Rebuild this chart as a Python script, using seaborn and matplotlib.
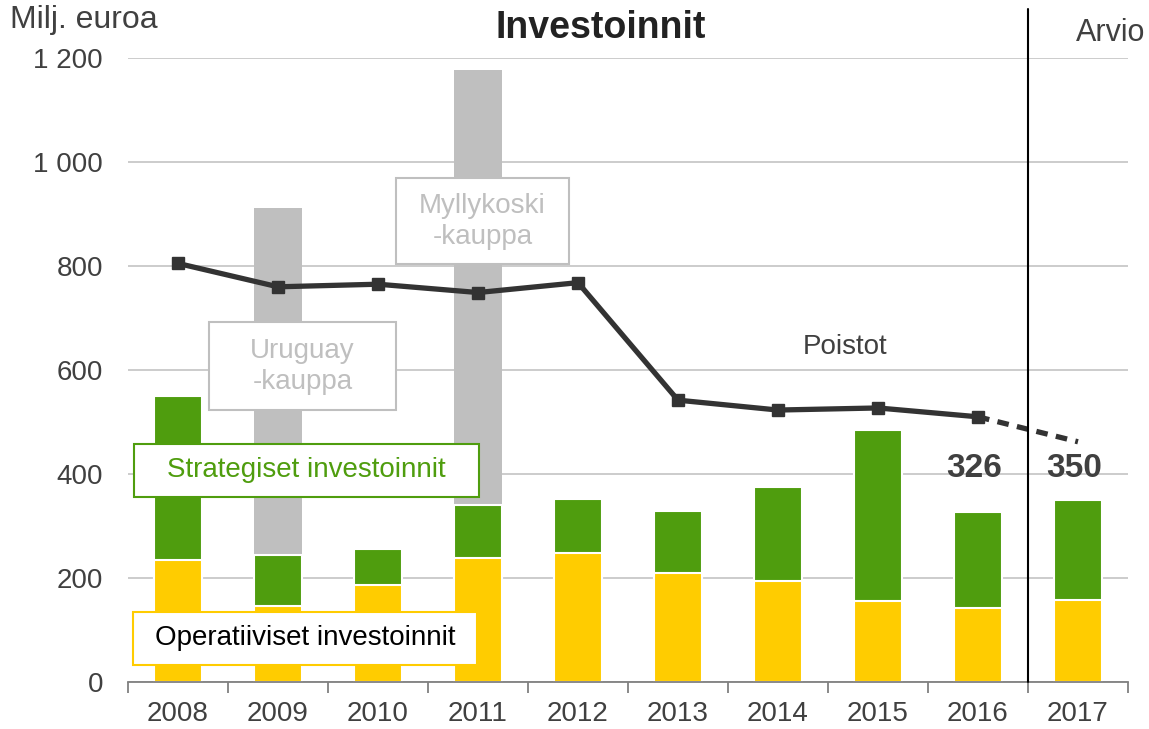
import matplotlib
matplotlib.use("Agg")
import matplotlib.pyplot as plt
from matplotlib.patches import Rectangle
import seaborn as sns
import numpy as np
import pandas as pd

years = ["2008", "2009", "2010", "2011", "2012", "2013", "2014", "2015", "2016", "2017"]
operatiiviset = [235, 147, 186, 238, 249, 210, 195, 155, 143, 158]
strategiset = [315, 97, 70, 102, 103, 119, 180, 330, 183, 192]
kaupat = [0, 667, 0, 837, 0, 0, 0, 0, 0, 0]
poistot = [805, 760, 765, 749, 768, 542, 523, 527, 510]
poistot_arvio = [510, 462]
totals_labels = {"2016": "326", "2017": "350"}
yticks = [0, 200, 400, 600, 800, 1000, 1200]
ytick_labels = ["0", "200", "400", "600", "800", "1 000", "1 200"]

sns.set_theme(style="white")
plt.rcParams["font.family"] = ["Liberation Sans", "DejaVu Sans"]

YELLOW = "#FFCC00"
GREEN = "#4F9D0E"
GREY = "#BFBFBF"
DARK = "#333333"
TEXT = "#404040"

df = pd.DataFrame({"year": years, "op": operatiiviset, "st": strategiset, "ka": kaupat})
df["green_top"] = df["op"] + df["st"]
df["grey_top"] = df["green_top"] + df["ka"]

fig = plt.figure(figsize=(11.49, 7.29), dpi=100)
ax = fig.add_axes([0.1114, 0.0645, 0.8703, 0.8559])

ax.set_axisbelow(True)
ax.yaxis.grid(True, color="#C8C8C8", linewidth=1.3)

sns.barplot(data=df, x="year", y="grey_top", color=GREY, width=0.48, ax=ax,
            edgecolor="white", linewidth=0, saturation=1, order=years)
sns.barplot(data=df, x="year", y="green_top", color=GREEN, width=0.48, ax=ax,
            edgecolor="white", linewidth=1.5, saturation=1, order=years)
sns.barplot(data=df, x="year", y="op", color=YELLOW, width=0.48, ax=ax,
            edgecolor="white", linewidth=1.5, saturation=1, order=years)

xs = np.arange(len(poistot))
ax.plot(xs, poistot, color=DARK, lw=3.8, marker="s", ms=9, zorder=5)
ax.plot([8, 9], poistot_arvio, color=DARK, lw=3.8, ls=(0, (2.2, 1.6)), zorder=5)

ax.set_xlim(-0.5, 9.5)
ax.set_ylim(0, 1200)
ax.set_yticks(yticks)
ax.set_yticklabels(ytick_labels)
ax.set_xlabel("")
ax.set_ylabel("")

for s in ["top", "right", "left"]:
    ax.spines[s].set_visible(False)
ax.spines["bottom"].set_color("#808080")
ax.spines["bottom"].set_linewidth(1.3)

ax.set_xticks(np.arange(-0.5, 10, 1.0), minor=True)
ax.tick_params(axis="x", which="minor", length=8, width=1.3, color="#808080", direction="out", bottom=True)
ax.tick_params(axis="x", which="major", length=0, pad=14, labelsize=20, labelcolor=TEXT)
ax.tick_params(axis="y", length=0, pad=18, labelsize=20, labelcolor=TEXT)

# Forecast divider
ax.plot([8.5, 8.5], [0, 1295], color="black", lw=1.5, clip_on=False, zorder=6)

fig.text(0.009, 0.972, "Milj. euroa", fontsize=23, color=TEXT, ha="left", va="center")
fig.text(0.523, 0.961, "Investoinnit", fontsize=27, fontweight="bold", color="#222222", ha="center", va="center")
ax.text(9.67, 1248, "Arvio", fontsize=22, color=TEXT, ha="right", va="center", clip_on=False)

ax.text(6.67, 644, "Poistot", fontsize=20, color=TEXT, ha="center", va="center")
for yr, lab in totals_labels.items():
    i = years.index(yr)
    ax.text(i - 0.04, 410, lab, fontsize=24, fontweight="bold", color=TEXT, ha="center", va="center")


def label_box(x0, x1, y0, y1, text, tcolor, ecolor):
    ax.add_patch(Rectangle((x0, y0), x1 - x0, y1 - y0, facecolor="white", edgecolor=ecolor,
                           lw=1.5, zorder=7))
    ax.text((x0 + x1) / 2, (y0 + y1) / 2, text, fontsize=20, color=tcolor, ha="center",
            va="center", linespacing=1.25, zorder=8)


label_box(-0.44, 3.01, 356, 458, "Strategiset investoinnit", GREEN, GREEN)
label_box(-0.45, 2.99, 33, 135, "Operatiiviset investoinnit", "black", YELLOW)
label_box(0.31, 2.18, 523, 692, "Uruguay\n-kauppa", GREY, GREY)
label_box(2.18, 3.91, 804, 969, "Myllykoski\n-kauppa", GREY, GREY)

fig.savefig("out.png", dpi=100)
